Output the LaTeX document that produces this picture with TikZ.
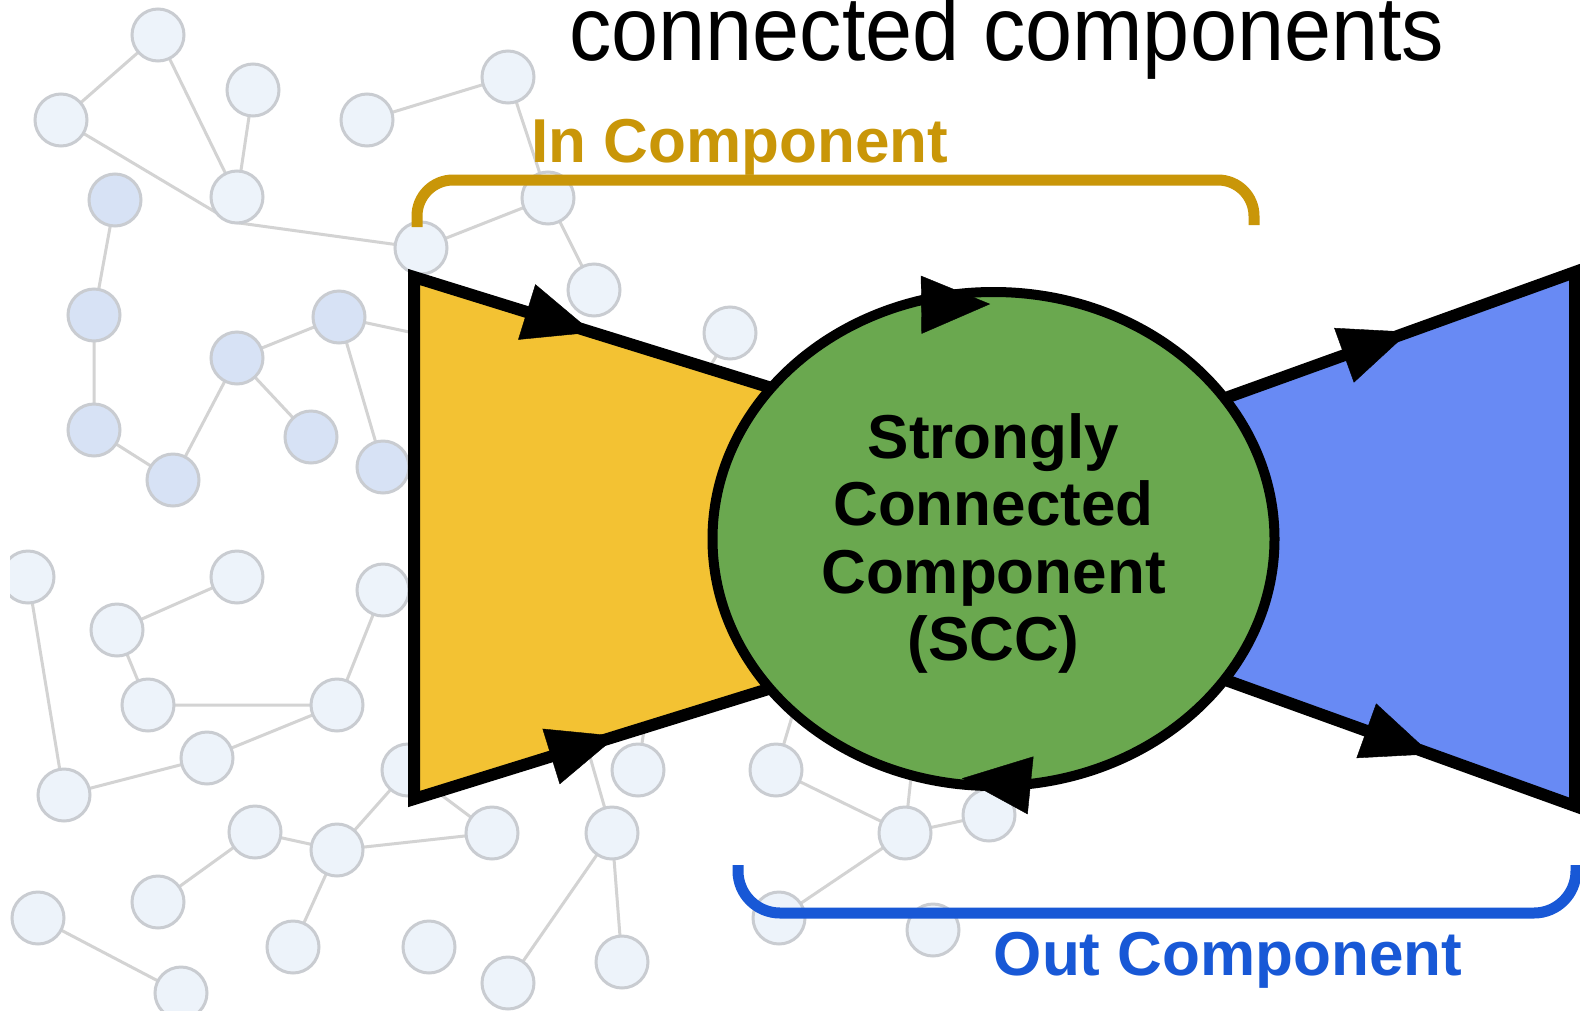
\documentclass[tikz,border=0pt]{standalone}
\usepackage{fontspec}
\setmainfont{Liberation Sans}
\usepackage{graphicx}
\usetikzlibrary{shapes.geometric, arrows.meta, decorations.markings}

\definecolor{inyellow}{RGB}{243,194,51}
\definecolor{sccgreen}{RGB}{106,168,79}
\definecolor{outblue}{RGB}{104,138,244}
\definecolor{ingold}{RGB}{201,150,8}
\definecolor{outlabel}{RGB}{24,88,214}
\definecolor{netfill}{RGB}{237,243,250}
\definecolor{netblue}{RGB}{215,226,245}
\definecolor{netrim}{RGB}{201,204,209}
\definecolor{netgray}{RGB}{211,211,211}

\begin{document}
\begin{tikzpicture}[x=1pt, y=-1pt,
  netnode/.style={circle, minimum size=52pt, inner sep=0pt},
  linkline/.style={draw=netgray, line width=3pt},
  region/.style={draw=black, line width=12pt, line join=miter},
  tipat/.style={postaction={decorate}, decoration={markings,
      mark=at position #1 with {\arrow{Triangle[length=69pt, width=58pt]}}}},
  bracketline/.style={line width=11pt},
  labeltext/.style={inner sep=0pt, anchor=base, font=\fontsize{62}{62}\selectfont\bfseries},
]
\useasboundingbox (0,0) rectangle (1580,1010);
\clip (0,0) rectangle (1580,1010);
\fill[white] (0,0) rectangle (1580,1010);

% ---------- faint network in the background ----------
\begin{scope}
\clip (10,0) rectangle (1580,1010);
% hidden ends of links that run under the shapes
\coordinate (h1) at (470,345);
\coordinate (h2) at (690,400);
\coordinate (h3) at (575,705);
\coordinate (h4) at (650,690);
\coordinate (h5) at (800,690);
\coordinate (h6) at (915,740);
\coordinate (j1) at (232,222);

% upper cluster
\node[netnode] (n1)  at (158,35)  {};
\node[netnode] (n2)  at (61,120)  {};
\node[netnode] (n3)  at (253,90)  {};
\node[netnode] (n4)  at (367,120) {};
\node[netnode] (n5)  at (508,77)  {};
\node[netnode] (n6)  at (237,197) {};
\node[netnode] (n7)  at (115,200) {};
\node[netnode] (n8)  at (421,248) {};
\node[netnode] (n9)  at (548,198) {};
\node[netnode] (n10) at (594,290) {};
\node[netnode] (n11) at (94,315)  {};
\node[netnode] (n12) at (339,317) {};
\node[netnode] (n13) at (237,358) {};
\node[netnode] (n14) at (730,333) {};
\node[netnode] (n15) at (94,430)  {};
\node[netnode] (n16) at (311,437) {};
\node[netnode] (n17) at (173,480) {};
\node[netnode] (n18) at (383,467) {};

% lower cluster
\node[netnode] (m1)  at (28,577)  {};
\node[netnode] (m2)  at (237,577) {};
\node[netnode] (m3)  at (383,590) {};
\node[netnode] (m4)  at (117,630) {};
\node[netnode] (m5)  at (148,705) {};
\node[netnode] (m6)  at (337,705) {};
\node[netnode] (m7)  at (207,758) {};
\node[netnode] (m8)  at (64,795)  {};
\node[netnode] (m9)  at (408,770) {};
\node[netnode] (m10) at (638,770) {};
\node[netnode] (m11) at (255,832) {};
\node[netnode] (m12) at (337,850) {};
\node[netnode] (m13) at (492,833) {};
\node[netnode] (m14) at (612,833) {};
\node[netnode] (m15) at (158,902) {};
\node[netnode] (m16) at (38,918)  {};
\node[netnode] (m17) at (293,947) {};
\node[netnode] (m18) at (429,947) {};
\node[netnode] (m19) at (622,962) {};
\node[netnode] (m20) at (508,983) {};
\node[netnode] (m21) at (181,993) {};
\node[netnode] (m22) at (776,770) {};
\node[netnode] (m23) at (905,833) {};
\node[netnode] (m24) at (989,815) {};
\node[netnode] (m25) at (779,918) {};
\node[netnode] (m26) at (933,930) {};

\path[linkline]
  (n1) -- (n2)  (n1) -- (n6)  (n3) -- (n6)
  (n2) -- (j1) -- (n8)
  (n4) -- (n5)  (n5) -- (n9)  (n8) -- (n9)  (n9) -- (n10)
  (n7) -- (n11) (n11) -- (n15) (n15) -- (n17) (n17) -- (n13)
  (n13) -- (n12) (n13) -- (n16) (n12) -- (n18) (n12) -- (h1)
  (n14) -- (h2)
  (m1) -- (m8)  (m4) -- (m2)  (m4) -- (m5)  (m5) -- (m6)
  (m6) -- (m3)  (m6) -- (m7)  (m7) -- (m8)
  (m11) -- (m12) (m12) -- (m9) (m12) -- (m13) (m12) -- (m17)
  (m15) -- (m11) (m16) -- (m21) (m13) -- (m9)
  (m14) -- (h3) (m10) -- (h4) (m14) -- (m20) (m14) -- (m19)
  (m22) -- (h5) (m22) -- (m23) (m23) -- (h6) (m23) -- (m24) (m23) -- (m25);

% the circles sit on top of their links
\foreach \n in {n1,n2,n3,n4,n5,n6,n8,n9,n10,n14,
                m1,m2,m3,m4,m5,m6,m7,m8,m9,m10,m11,m12,m13,m14,m15,m16,m17,
                m18,m19,m20,m21,m22,m23,m24,m25,m26}
  \path[draw=netrim, line width=3pt, fill=netfill] (\n.center) circle[radius=26];
\foreach \n in {n7,n11,n12,n13,n15,n16,n17,n18}
  \path[draw=netrim, line width=3pt, fill=netblue] (\n.center) circle[radius=26];
\end{scope}

% ---------- in-component (left) ----------
\coordinate (yA) at (414,277);
\coordinate (yB) at (414,799);
\coordinate (yT) at (820,403);
\coordinate (yD) at (820,673);
\path[region, fill=inyellow] (yA) -- (yT) -- (yD) -- (yB) -- cycle;
\path[tipat=0.44] (yA) -- (yT);
\path[tipat=0.50] (yB) -- (yD);

% ---------- out-component (right) ----------
\coordinate (bE) at (1575,272);
\coordinate (bF) at (1575,806);
\coordinate (bT) at (1170,418);
\coordinate (bD) at (1170,660);
\path[region, fill=outblue] (bT) -- (bE) -- (bF) -- (bD) -- cycle;
\path[tipat=0.59]  (bT) -- (bE);
\path[tipat=0.645] (bD) -- (bF);

% ---------- strongly connected component ----------
\node[ellipse, draw=black, line width=10pt, fill=sccgreen, inner sep=0pt,
      minimum width=562pt, minimum height=494pt] (scc) at (993.5,539) {};
\node[align=center, inner sep=0pt, font=\fontsize{62}{67.2}\selectfont\bfseries]
  (scctext) at (993.5,543.5) {Strongly\\Connected\\Component\\(SCC)};
% circulation marks riding just inside the rim
\path[tipat=1] (scc.center) ++(-115:270 and 235)
  arc[start angle=-115, end angle=-90.7, x radius=270, y radius=235];
\path[tipat=1] (scc.center) ++(70:275 and 241)
  arc[start angle=70, end angle=96.6, x radius=275, y radius=241];

% ---------- brackets and labels ----------
\coordinate (ib1) at (417,227);
\coordinate (ib2) at (417,180);
\coordinate (ib3) at (1254,180);
\coordinate (ib4) at (1254,225);
\draw[bracketline, ingold, rounded corners=36pt] (ib1) -- (ib2) -- (ib3) -- (ib4);

\coordinate (ob1) at (738,865);
\coordinate (ob2) at (738,913);
\coordinate (ob3) at (1576,913);
\coordinate (ob4) at (1576,865);
\draw[bracketline, outlabel, rounded corners=42pt] (ob1) -- (ob2) -- (ob3) -- (ob4);

\node[labeltext, text=ingold]   (inlabel)  at (740,162)  {In Component};
\node[labeltext, text=outlabel] (outlabel) at (1228,975) {Out Component};

\node[anchor=base west, inner sep=0pt, font=\fontsize{91}{91}\selectfont]
  (title) at (569,60) {\scalebox{0.93}[1]{connected components}};
\end{tikzpicture}
\end{document}
